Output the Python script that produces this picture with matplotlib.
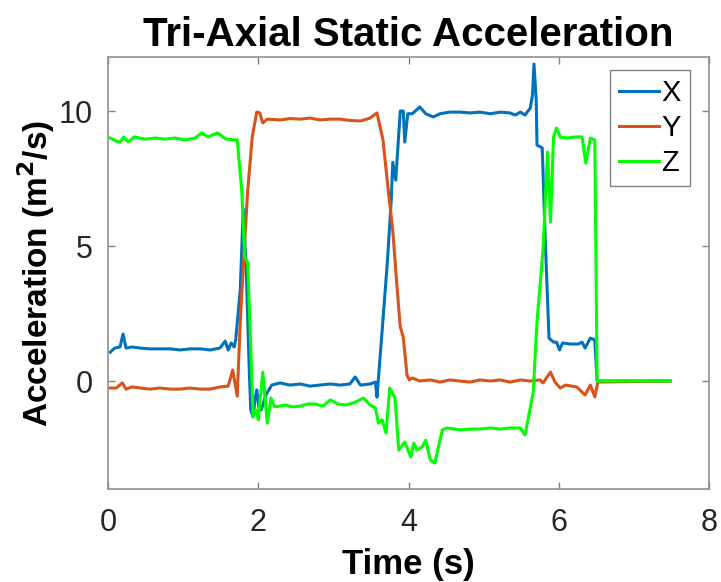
import matplotlib.pyplot as plt

# values (time in s, acceleration)
t_x = [0.03, 0.09, 0.16, 0.20, 0.24, 0.32, 0.43, 0.56, 0.69, 0.83, 0.96, 1.09, 1.23, 1.36, 1.49,
       1.56, 1.60, 1.64, 1.68, 1.70, 1.76, 1.80, 1.84, 1.88, 1.90, 1.93, 1.96, 1.98, 2.01, 2.04,
       2.10, 2.18, 2.29, 2.42, 2.56, 2.69, 2.82, 2.96, 3.09, 3.22, 3.29, 3.36, 3.49, 3.56, 3.58,
       3.65, 3.72, 3.77, 3.79, 3.83, 3.89, 3.93, 3.95, 3.99, 4.05, 4.15, 4.23, 4.33, 4.42, 4.55,
       4.68, 4.82, 4.95, 5.09, 5.22, 5.35, 5.42, 5.49, 5.55, 5.59, 5.62, 5.65, 5.67, 5.70, 5.71,
       5.78, 5.82, 5.87, 5.93, 5.97, 6.01, 6.05, 6.15, 6.26, 6.31, 6.35, 6.42, 6.48, 6.51, 7.48]
x_vals = [1.07, 1.22, 1.26, 1.74, 1.22, 1.26, 1.22, 1.19, 1.19, 1.19, 1.15, 1.19, 1.19, 1.15, 1.22,
          1.48, 1.15, 1.41, 1.26, 1.52, 3.37, 6.37, 4.11, 0.41, -1.07, -1.33, -0.63, -0.33, -1.0, -1.07,
          -0.52, -0.15, -0.07, -0.15, -0.11, -0.19, -0.15, -0.11, -0.15, -0.11, 0.15, -0.15, -0.11, -0.04, -0.6,
          1.9, 4.48, 6.7, 8.1, 7.44, 10.0, 10.0, 8.85, 9.9, 9.9, 10.15, 9.9, 9.78, 9.9, 9.96,
          9.96, 9.93, 9.96, 9.9, 9.96, 9.93, 9.85, 9.96, 9.85, 10.0, 10.1, 10.6, 11.74, 10.4, 8.74,
          8.63, 5.22, 1.59, 1.44, 1.44, 1.15, 1.41, 1.37, 1.37, 1.44, 1.22, 1.59, 1.52, 0.0, 0.0]

t_y = [0.03, 0.11, 0.19, 0.24, 0.32, 0.43, 0.56, 0.69, 0.83, 0.96, 1.09, 1.23, 1.36, 1.49, 1.60,
       1.66, 1.72, 1.76, 1.82, 1.86, 1.92, 1.98, 2.02, 2.06, 2.12, 2.29, 2.42, 2.56, 2.69, 2.82,
       2.96, 3.09, 3.22, 3.36, 3.49, 3.58, 3.66, 3.73, 3.79, 3.85, 3.89, 3.93, 3.98, 4.01, 4.05,
       4.15, 4.29, 4.42, 4.55, 4.68, 4.82, 4.95, 5.09, 5.22, 5.35, 5.49, 5.62, 5.75, 5.79, 5.89,
       5.95, 6.02, 6.09, 6.24, 6.35, 6.42, 6.48, 6.52, 7.48]
y_vals = [-0.26, -0.26, -0.07, -0.30, -0.22, -0.26, -0.30, -0.26, -0.30, -0.30, -0.26, -0.30, -0.30, -0.22, -0.19,
          0.41, -0.56, 2.15, 5.22, 7.07, 9.04, 9.96, 9.93, 9.56, 9.70, 9.67, 9.72, 9.70, 9.74, 9.67,
          9.70, 9.70, 9.65, 9.63, 9.74, 9.93, 8.93, 7.07, 5.59, 3.37, 2.0, 1.63, 0.22, 0.04, 0.11,
          0.0, 0.04, -0.04, 0.04, 0.0, -0.04, 0.04, 0.0, 0.04, -0.04, 0.04, 0.0, 0.04, -0.07, 0.33,
          -0.04, -0.26, -0.15, -0.22, -0.52, -0.15, -0.59, -0.04, 0.0]

t_z = [0.03, 0.11, 0.16, 0.21, 0.27, 0.35, 0.49, 0.63, 0.76, 0.89, 1.03, 1.16, 1.25, 1.33, 1.46,
       1.57, 1.72, 1.78, 1.82, 1.86, 1.92, 1.93, 1.97, 2.00, 2.06, 2.12, 2.17, 2.22, 2.36, 2.46,
       2.56, 2.66, 2.76, 2.86, 2.96, 3.06, 3.16, 3.28, 3.40, 3.49, 3.56, 3.60, 3.65, 3.70, 3.75,
       3.82, 3.87, 3.95, 4.03, 4.07, 4.11, 4.18, 4.23, 4.29, 4.35, 4.45, 4.51, 4.69, 4.82, 4.95,
       5.09, 5.22, 5.35, 5.49, 5.55, 5.66, 5.71, 5.79, 5.85, 5.89, 5.93, 5.97, 6.02, 6.11, 6.22,
       6.31, 6.36, 6.42, 6.48, 6.51, 7.48]
z_vals = [9.0, 8.89, 8.85, 9.04, 8.85, 9.04, 8.96, 9.0, 8.96, 9.0, 8.93, 9.0, 9.19, 9.04, 9.19,
          8.96, 8.93, 7.07, 4.59, 4.37, -0.33, -1.33, -1.07, -1.44, 0.33, -1.56, -0.63, -0.96, -0.89, -0.96,
          -0.93, -0.85, -0.85, -0.93, -0.70, -0.85, -0.89, -0.80, -0.63, -0.89, -1.0, -1.56, -1.44, -1.93, -0.26,
          -0.63, -2.56, -2.26, -2.81, -2.30, -2.56, -2.44, -2.19, -2.93, -3.04, -1.81, -1.74, -1.81, -1.78, -1.78,
          -1.74, -1.78, -1.74, -1.74, -2.0, -0.41, 2.19, 4.85, 8.48, 5.89, 9.04, 9.37, 9.04, 9.0, 9.04,
          9.04, 8.07, 9.0, 8.93, 0.0, 0.0]

plt.rcParams['font.family'] = ['Liberation Sans', 'DejaVu Sans']

fig = plt.figure(figsize=(7.21, 5.82), dpi=100)
ax = fig.add_axes([0.1498, 0.1598, 0.8336, 0.7422])

ax.plot(t_x, x_vals, color='#0072BD', lw=2.2, label='X')
ax.plot(t_y, y_vals, color='#D95319', lw=2.2, label='Y')
ax.plot(t_z, z_vals, color='#00FF00', lw=2.2, label='Z')

ax.set_xlim(0, 8)
ax.set_ylim(-4, 12)
ax.set_xticks([0, 2, 4, 6, 8])
ax.set_yticks([0, 5, 10])
ax.tick_params(direction='in', top=True, right=True, length=5, width=1,
               colors='#808080', labelcolor='#262626', labelsize=22)
ax.tick_params(axis='x', pad=14)
ax.tick_params(axis='y', pad=11)
for s in ax.spines.values():
    s.set_color('#909090')
    s.set_linewidth(1.2)

ax.set_title('Tri-Axial Static Acceleration', fontsize=29, fontweight='bold', pad=8)
ax.set_xlabel('Time (s)', fontsize=25, fontweight='bold', labelpad=7)
ax.set_ylabel('Acceleration (m$^\\mathbf{2}$/s)', fontsize=24, fontweight='bold', labelpad=1)

leg = ax.legend(loc='upper right', bbox_to_anchor=(0.968, 0.97), borderaxespad=0,
                fontsize=21, fancybox=False, framealpha=1, edgecolor='#808080',
                handlelength=1.37, handletextpad=0.1, borderpad=0.3, labelspacing=0.25)
leg.get_frame().set_linewidth(1)

fig.savefig('out.png', dpi=100)
